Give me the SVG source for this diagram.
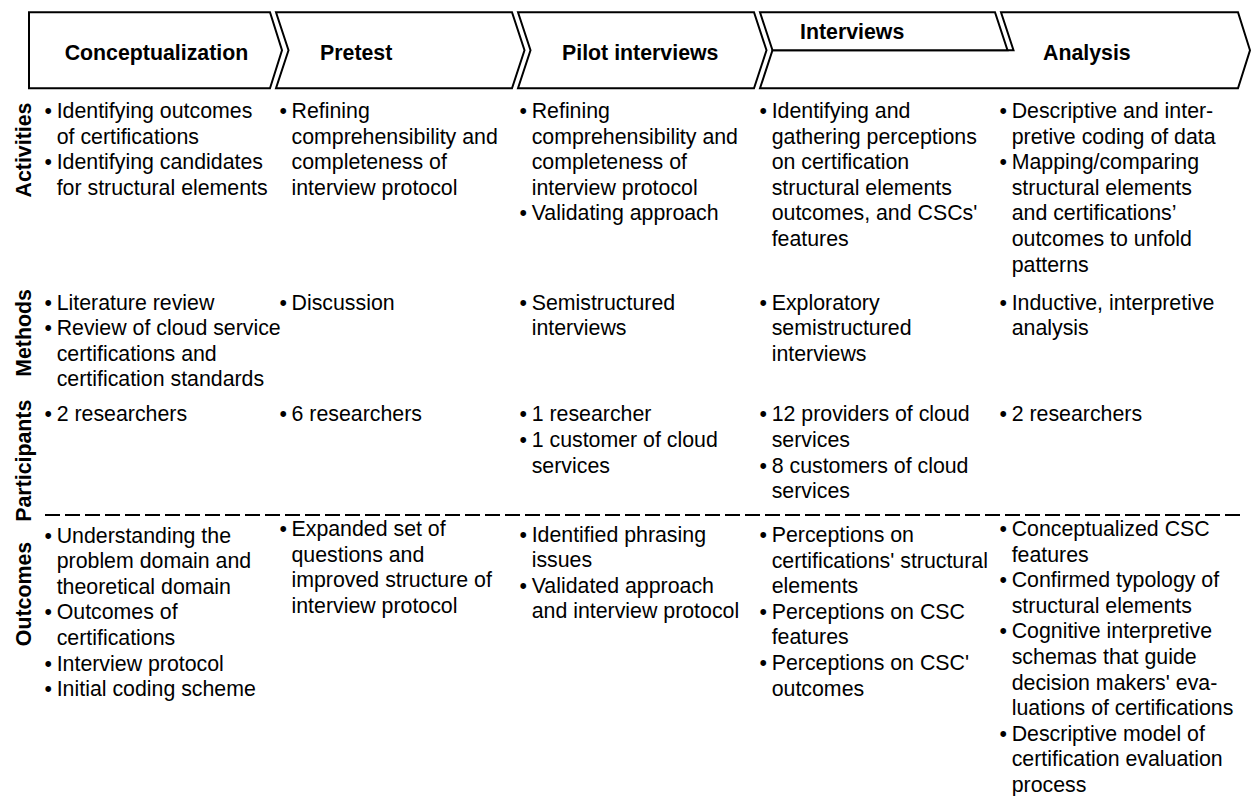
<svg xmlns="http://www.w3.org/2000/svg" width="1251" height="796" viewBox="0 0 1251 796">
  <style>
    .shape { fill: #ffffff; stroke: #000000; stroke-width: 2; stroke-linejoin: miter; }
    .hdr { font-family: "Liberation Sans", Arial, sans-serif; font-weight: bold; font-size: 21.33px; fill: #000000; }
    .lbl { font-family: "Liberation Sans", Arial, sans-serif; font-weight: bold; font-size: 21.33px; fill: #000000; text-anchor: middle; }
    .txt { font-family: "Liberation Sans", Arial, sans-serif; font-size: 21.33px; fill: #000000; }
    .sep { fill: none; stroke: #000000; stroke-width: 2; stroke-dasharray: 15 5; }
  </style>

  <rect width="1251" height="796" fill="#ffffff"/>

  <!-- phase chevrons -->
  <g id="phase-conceptualization">
    <polygon class="shape" points="29,12.3 270,12.3 282,50.3 270,88.3 29,88.3"/>
    <text class="hdr" x="156.5" y="59.5" text-anchor="middle">Conceptualization</text>
  </g>
  <g id="phase-pretest">
    <polygon class="shape" points="276,12.3 512,12.3 524.5,50.3 512,88.3 276,88.3 288.5,50.3"/>
    <text class="hdr" x="320" y="59.5">Pretest</text>
  </g>
  <g id="phase-pilot">
    <polygon class="shape" points="518,12.3 754,12.3 766.5,50.3 754,88.3 518,88.3 530.5,50.3"/>
    <text class="hdr" x="562" y="59.5">Pilot interviews</text>
  </g>
  <g id="phase-analysis">
    <polygon class="shape" points="1001,12.3 1238,12.3 1250,50.3 1238,88.3 760,88.3 772.5,50.3 1013.5,50.3"/>
    <text class="hdr" x="1043" y="59.5">Analysis</text>
  </g>
  <g id="phase-interviews">
    <polygon class="shape" points="760,12.3 995,12.3 1007.5,50.3 772.5,50.3"/>
    <text class="hdr" x="800" y="38.6">Interviews</text>
  </g>

  <!-- row labels -->
  <g id="row-labels">
    <text class="lbl" transform="translate(30.5,150) rotate(-90)">Activities</text>
    <text class="lbl" transform="translate(30.5,333) rotate(-90)">Methods</text>
    <text class="lbl" transform="translate(30.5,460.7) rotate(-90)">Participants</text>
    <text class="lbl" transform="translate(30.5,594) rotate(-90)">Outcomes</text>
  </g>

  <!-- separator between participants and outcomes -->
  <g id="connectors">
    <line class="sep" x1="45" y1="515" x2="1242" y2="515"/>
  </g>

  <!-- column 1: conceptualization -->
  <g id="col-conceptualization" class="txt">
    <text x="44.6" y="118">•</text>
    <text x="56.7" y="118">Identifying outcomes</text>
    <text x="56.7" y="143.6">of certifications</text>
    <text x="44.6" y="169.2">•</text>
    <text x="56.7" y="169.2">Identifying candidates</text>
    <text x="56.7" y="194.8">for structural elements</text>

    <text x="44.6" y="309.6">•</text>
    <text x="56.7" y="309.6">Literature review</text>
    <text x="44.6" y="335.2">•</text>
    <text x="56.7" y="335.2">Review of cloud service</text>
    <text x="56.7" y="360.8">certifications and</text>
    <text x="56.7" y="386.4">certification standards</text>

    <text x="44.6" y="421.3">•</text>
    <text x="56.7" y="421.3">2 researchers</text>

    <text x="44.6" y="542.5">•</text>
    <text x="56.7" y="542.5">Understanding the</text>
    <text x="56.7" y="568.1">problem domain and</text>
    <text x="56.7" y="593.7">theoretical domain</text>
    <text x="44.6" y="619.3">•</text>
    <text x="56.7" y="619.3">Outcomes of</text>
    <text x="56.7" y="644.9">certifications</text>
    <text x="44.6" y="670.5">•</text>
    <text x="56.7" y="670.5">Interview protocol</text>
    <text x="44.6" y="696.1">•</text>
    <text x="56.7" y="696.1">Initial coding scheme</text>
  </g>

  <!-- column 2: pretest -->
  <g id="col-pretest" class="txt">
    <text x="279.4" y="118">•</text>
    <text x="291.5" y="118">Refining</text>
    <text x="291.5" y="143.6">comprehensibility and</text>
    <text x="291.5" y="169.2">completeness of</text>
    <text x="291.5" y="194.8">interview protocol</text>

    <text x="279.4" y="309.6">•</text>
    <text x="291.5" y="309.6">Discussion</text>

    <text x="279.4" y="421.3">•</text>
    <text x="291.5" y="421.3">6 researchers</text>

    <text x="279.4" y="536">•</text>
    <text x="291.5" y="536">Expanded set of</text>
    <text x="291.5" y="561.6">questions and</text>
    <text x="291.5" y="587.2">improved structure of</text>
    <text x="291.5" y="612.8">interview protocol</text>
  </g>

  <!-- column 3: pilot interviews -->
  <g id="col-pilot" class="txt">
    <text x="519.6" y="118">•</text>
    <text x="531.7" y="118">Refining</text>
    <text x="531.7" y="143.6">comprehensibility and</text>
    <text x="531.7" y="169.2">completeness of</text>
    <text x="531.7" y="194.8">interview protocol</text>
    <text x="519.6" y="220.4">•</text>
    <text x="531.7" y="220.4">Validating approach</text>

    <text x="519.6" y="309.6">•</text>
    <text x="531.7" y="309.6">Semistructured</text>
    <text x="531.7" y="335.2">interviews</text>

    <text x="519.6" y="421.3">•</text>
    <text x="531.7" y="421.3">1 researcher</text>
    <text x="519.6" y="446.9">•</text>
    <text x="531.7" y="446.9">1 customer of cloud</text>
    <text x="531.7" y="472.5">services</text>

    <text x="519.6" y="541.5">•</text>
    <text x="531.7" y="541.5">Identified phrasing</text>
    <text x="531.7" y="567.1">issues</text>
    <text x="519.6" y="592.7">•</text>
    <text x="531.7" y="592.7">Validated approach</text>
    <text x="531.7" y="618.3">and interview protocol</text>
  </g>

  <!-- column 4: interviews -->
  <g id="col-interviews" class="txt">
    <text x="759.6" y="118">•</text>
    <text x="771.7" y="118">Identifying and</text>
    <text x="771.7" y="143.6">gathering perceptions</text>
    <text x="771.7" y="169.2">on certification</text>
    <text x="771.7" y="194.8">structural elements</text>
    <text x="771.7" y="220.4">outcomes, and CSCs'</text>
    <text x="771.7" y="246">features</text>

    <text x="759.6" y="309.6">•</text>
    <text x="771.7" y="309.6">Exploratory</text>
    <text x="771.7" y="335.2">semistructured</text>
    <text x="771.7" y="360.8">interviews</text>

    <text x="759.6" y="421.3">•</text>
    <text x="771.7" y="421.3">12 providers of cloud</text>
    <text x="771.7" y="446.9">services</text>
    <text x="759.6" y="472.5">•</text>
    <text x="771.7" y="472.5">8 customers of cloud</text>
    <text x="771.7" y="498.1">services</text>

    <text x="759.6" y="542">•</text>
    <text x="771.7" y="542">Perceptions on</text>
    <text x="771.7" y="567.6">certifications' structural</text>
    <text x="771.7" y="593.2">elements</text>
    <text x="759.6" y="618.8">•</text>
    <text x="771.7" y="618.8">Perceptions on CSC</text>
    <text x="771.7" y="644.4">features</text>
    <text x="759.6" y="670">•</text>
    <text x="771.7" y="670">Perceptions on CSC'</text>
    <text x="771.7" y="695.6">outcomes</text>
  </g>

  <!-- column 5: analysis -->
  <g id="col-analysis" class="txt">
    <text x="999.6" y="118">•</text>
    <text x="1011.7" y="118">Descriptive and inter-</text>
    <text x="1011.7" y="143.6">pretive coding of data</text>
    <text x="999.6" y="169.2">•</text>
    <text x="1011.7" y="169.2">Mapping/comparing</text>
    <text x="1011.7" y="194.8">structural elements</text>
    <text x="1011.7" y="220.4">and certifications’</text>
    <text x="1011.7" y="246">outcomes to unfold</text>
    <text x="1011.7" y="271.6">patterns</text>

    <text x="999.6" y="309.6">•</text>
    <text x="1011.7" y="309.6">Inductive, interpretive</text>
    <text x="1011.7" y="335.2">analysis</text>

    <text x="999.6" y="421.3">•</text>
    <text x="1011.7" y="421.3">2 researchers</text>

    <text x="999.6" y="536">•</text>
    <text x="1011.7" y="536">Conceptualized CSC</text>
    <text x="1011.7" y="561.6">features</text>
    <text x="999.6" y="587.2">•</text>
    <text x="1011.7" y="587.2">Confirmed typology of</text>
    <text x="1011.7" y="612.8">structural elements</text>
    <text x="999.6" y="638.4">•</text>
    <text x="1011.7" y="638.4">Cognitive interpretive</text>
    <text x="1011.7" y="664">schemas that guide</text>
    <text x="1011.7" y="689.6">decision makers' eva-</text>
    <text x="1011.7" y="715.2">luations of certifications</text>
    <text x="999.6" y="740.8">•</text>
    <text x="1011.7" y="740.8">Descriptive model of</text>
    <text x="1011.7" y="766.4">certification evaluation</text>
    <text x="1011.7" y="792">process</text>
  </g>
</svg>
